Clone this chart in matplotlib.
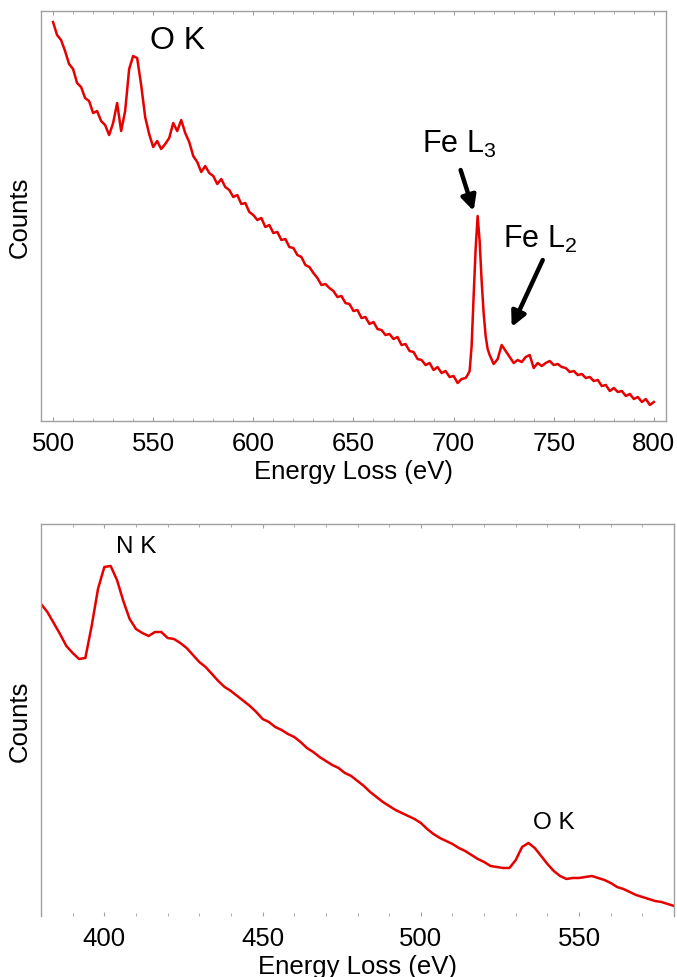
import numpy as np
import matplotlib
matplotlib.use("Agg")
import matplotlib.pyplot as plt
from matplotlib.ticker import MultipleLocator

plt.rcParams['font.family'] = ['Liberation Sans', 'DejaVu Sans']
plt.rcParams['mathtext.fontset'] = 'custom'
plt.rcParams['mathtext.rm'] = 'Liberation Sans'

# ---- top spectrum (Fe oxide region), counts ----
top_energy = np.concatenate([np.arange(500, 707, 2), np.arange(707, 718, 1), np.arange(718, 801, 2)])
top_counts = [
    399, 386, 381, 370, 357, 352, 338, 334, 323, 320,   # 500-518
    308, 310, 300, 296, 286, 298, 318, 290, 310, 352,   # 520-538
    365, 363, 336, 304, 287, 274, 280, 272, 277, 283,   # 540-558
    298, 290, 301, 288, 279, 265, 259, 249, 255, 248,   # 560-578
    245, 237, 242, 234, 231, 224, 226, 217, 218, 209,   # 580-598
    206, 201, 203, 194, 196, 188, 189, 181, 182, 174,   # 600-618
    173, 166, 164, 156, 154, 148, 143, 136, 137, 133,   # 620-638
    130, 124, 125, 118, 117, 110, 111, 103, 104, 97,    # 640-658
    99, 92, 91, 86, 87, 82, 84, 76, 77, 70,             # 660-678
    69, 62, 61, 56, 58, 51, 54, 48, 50, 44,             # 680-698
    45, 38, 42, 43,                                     # 700-706
    46, 50, 75, 125, 172, 205, 180, 140, 108, 85, 72,   # 707-717
    66, 57, 62, 76, 70, 64, 58, 61, 59, 64,             # 718-736
    66, 53, 58, 55, 58, 60, 56, 57, 54, 53,             # 738-756
    49, 50, 46, 47, 43, 44, 40, 41, 35, 36,             # 758-776
    30, 33, 29, 30, 25, 27, 22, 24, 19, 22,             # 778-796
    16, 19,                                             # 798-800
]

# ---- bottom spectrum (N K / O K region) ----
bot_energy = np.arange(380, 581, 2)
bot_counts = [
    312, 304, 293, 282, 270, 263, 257, 258, 290, 327,   # 380-398
    349, 350, 336, 315, 297, 287, 283, 280, 284, 284,   # 400-418
    278, 277, 273, 268, 261, 254, 249, 242, 235, 229,   # 420-438
    225, 220, 215, 210, 204, 197, 194, 189, 186, 182,   # 440-458
    179, 174, 168, 164, 159, 155, 151, 148, 143, 140,   # 460-478
    135, 130, 124, 119, 114, 110, 106, 103, 100, 97,    # 480-498
    93, 87, 82, 78, 75, 72, 68, 65, 61, 57,             # 500-518
    54, 50, 49, 48, 48, 56, 69, 73, 68, 60,             # 520-538
    52, 45, 40, 37, 38, 38, 39, 40, 38, 36,             # 540-558
    33, 29, 27, 24, 21, 19, 17, 15, 14, 12,             # 560-578
    10,                                                 # 580
]

red = '#e60000'
grey = '#a0a0a0'


def style_axes(ax, hide_bottom=False):
    for s in ax.spines.values():
        s.set_color(grey)
        s.set_linewidth(1.0)
    if hide_bottom:
        ax.spines['bottom'].set_visible(False)
    ax.xaxis.set_major_locator(MultipleLocator(50))
    ax.xaxis.set_minor_locator(MultipleLocator(10))
    ax.tick_params(axis='x', which='both', direction='in', top=True, bottom=True,
                   color=grey, labelsize=18.5, pad=7)
    ax.tick_params(axis='x', which='major', length=3)
    ax.tick_params(axis='x', which='minor', length=2)
    ax.set_yticks([])
    ax.set_xlabel('Energy Loss (eV)', fontsize=18.5, labelpad=3)
    ax.set_ylabel('Counts', fontsize=18.5, labelpad=7)


arrow_style = dict(arrowstyle='-|>', color='black', lw=3.2, mutation_scale=22,
                   shrinkA=0, shrinkB=0)

fig = plt.figure(figsize=(6.77, 9.78), dpi=100)

ax1 = fig.add_axes([0.0606, 0.5685, 0.923, 0.4192])
ax1.plot(top_energy, top_counts, color=red, lw=1.8)
ax1.set_xlim(494, 806)
ax1.set_ylim(0, 410)
style_axes(ax1)
ax1.text(562, 381, 'O K', fontsize=23, ha='center', va='center')
ax1.text(703, 278, 'Fe L$_\\mathregular{3}$', fontsize=22, ha='center', va='center')
ax1.annotate('', xy=(710, 210), xytext=(703.5, 251), arrowprops=arrow_style)
ax1.text(743, 183, 'Fe L$_\\mathregular{2}$', fontsize=22, ha='center', va='center')
ax1.annotate('', xy=(729, 94), xytext=(744.5, 161), arrowprops=arrow_style)

ax2 = fig.add_axes([0.0606, 0.0624, 0.935, 0.4008])
ax2.plot(bot_energy, bot_counts, color=red, lw=1.8)
ax2.set_xlim(380, 580)
ax2.set_ylim(0, 392)
style_axes(ax2, hide_bottom=True)
ax2.text(410, 370, 'N K', fontsize=17.5, ha='center', va='center')
ax2.text(542, 94, 'O K', fontsize=17.5, ha='center', va='center')

fig.savefig('out.png', dpi=100)
